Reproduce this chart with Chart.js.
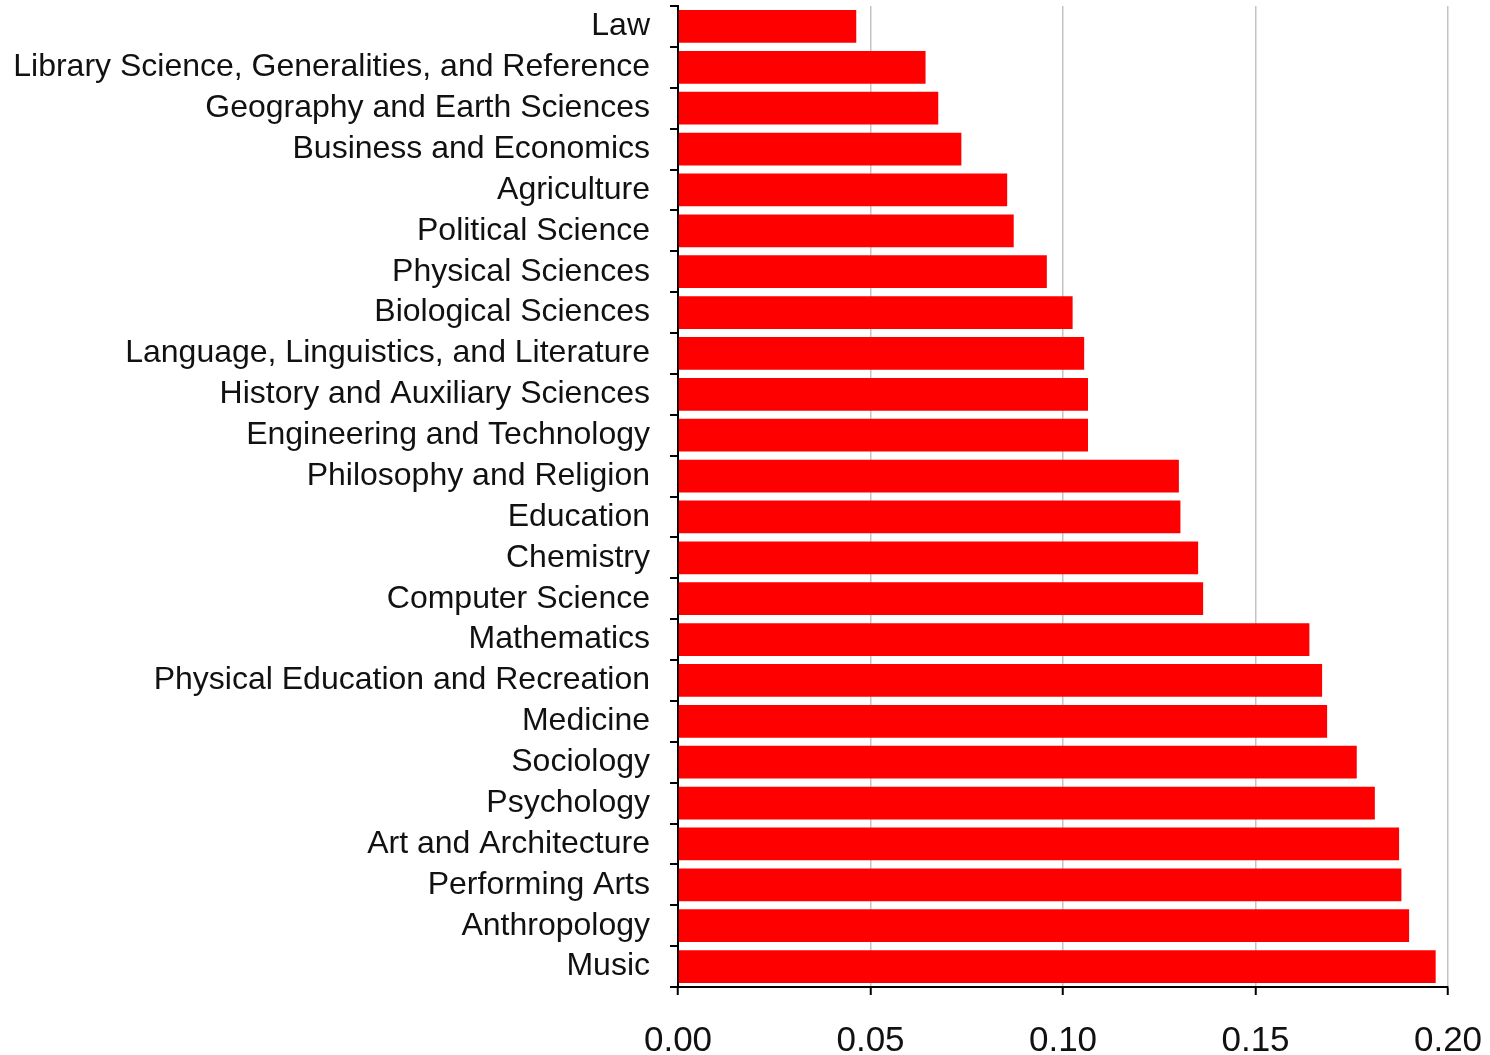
<!DOCTYPE html>
<html>
<head>
<meta charset="utf-8">
<script src="https://cdn.jsdelivr.net/npm/chart.js@4"></script>
<style>
  html, body { margin: 0; padding: 0; background: #fff; }
  canvas { display: block; }
</style>
</head>
<body>
<canvas id="barChart" width="1490" height="1055"></canvas>
<script>
// categories, top to bottom
const categories = [
    'Law',
    'Library Science, Generalities, and Reference',
    'Geography and Earth Sciences',
    'Business and Economics',
    'Agriculture',
    'Political Science',
    'Physical Sciences',
    'Biological Sciences',
    'Language, Linguistics, and Literature',
    'History and Auxiliary Sciences',
    'Engineering and Technology',
    'Philosophy and Religion',
    'Education',
    'Chemistry',
    'Computer Science',
    'Mathematics',
    'Physical Education and Recreation',
    'Medicine',
    'Sociology',
    'Psychology',
    'Art and Architecture',
    'Performing Arts',
    'Anthropology',
    'Music'
];

// values
const values = [
    0.0463, 0.0643, 0.0676, 0.0736, 0.0855, 0.0872, 0.0958, 0.1025,
    0.1055, 0.1065, 0.1065, 0.1301, 0.1305, 0.1351, 0.1364, 0.1640,
    0.1673, 0.1686, 0.1763, 0.1810, 0.1873, 0.1879, 0.1899, 0.1968
];

// x axis ticks
const xMin = 0;
const xMax = 0.20;
const xStep = 0.05;

const ctx = document.getElementById('barChart').getContext('2d');

new Chart(ctx, {
    type: 'bar',
    data: {
        labels: categories,
        datasets: [{
            data: values,
            backgroundColor: '#ff0000',
            borderWidth: 0,
            barPercentage: 0.8,
            categoryPercentage: 1.0
        }]
    },
    options: {
        indexAxis: 'y',
        responsive: false,
        animation: false,
        layout: {
            padding: { top: 6, right: 42, bottom: 0, left: 0 }
        },
        plugins: {
            legend: { display: false },
            tooltip: { enabled: false }
        },
        scales: {
            x: {
                min: xMin,
                max: xMax,
                afterFit: (scale) => {
                    scale.height = 68;
                    scale.paddingLeft = 0;
                    scale.paddingRight = 0;
                },
                ticks: {
                    stepSize: xStep,
                    padding: 25,
                    color: '#111',
                    font: { family: '"Liberation Sans", Arial, sans-serif', size: 35 },
                    callback: (v) => Number(v).toFixed(2)
                },
                grid: {
                    color: (c) => (c.tick && c.tick.value === 0) ? 'rgba(0,0,0,0)' : '#c4c4c4',
                    lineWidth: 1.5,
                    tickColor: '#000',
                    tickLength: 8,
                    tickWidth: 2
                },
                border: { display: true, color: '#000', width: 2 }
            },
            y: {
                afterFit: (scale) => {
                    scale.width = 678;
                    scale.paddingTop = 0;
                    scale.paddingBottom = 0;
                },
                ticks: {
                    autoSkip: false,
                    padding: 20,
                    color: '#111',
                    font: { family: '"Liberation Sans", Arial, sans-serif', size: 32 }
                },
                grid: {
                    offset: true,
                    drawOnChartArea: false,
                    color: '#000',
                    tickLength: 8,
                    lineWidth: 2
                },
                border: { display: true, color: '#000', width: 2 }
            }
        }
    }
});
</script>
</body>
</html>
